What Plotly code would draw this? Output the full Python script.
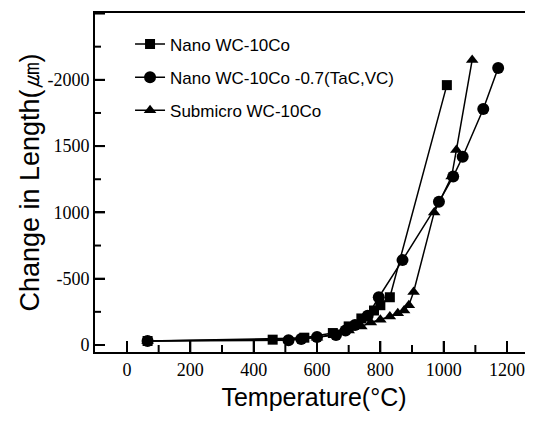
import plotly.graph_objects as go

# Nano WC-10Co (squares)
sq_x = [65, 460, 560, 650, 700, 740, 780, 800, 830, 1010]
sq_y = [30, 40, 55, 90, 140, 200, 260, 300, 360, 1960]

# Nano WC-10Co -0.7(TaC,VC) (circles)
ci_x = [65, 510, 550, 600, 660, 690, 720, 760, 795, 870, 985, 1030, 1060, 1125, 1172]
ci_y = [30, 35, 45, 60, 75, 110, 150, 220, 360, 640, 1080, 1270, 1420, 1780, 2090]

# Submicro WC-10Co (triangles)
tr_x = [65, 600, 700, 740, 770, 800, 830, 855, 875, 890, 905, 970, 1025, 1040, 1090]
tr_y = [30, 55, 110, 140, 170, 190, 215, 240, 260, 300, 400, 1000, 1270, 1470, 2150]

names = ["Nano WC-10Co", "Nano WC-10Co -0.7(TaC,VC)", "Submicro WC-10Co"]

x_ticks = [0, 200, 400, 600, 800, 1000, 1200]
x_minor = [100, 300, 500, 700, 900, 1100]
y_ticks = [0, 500, 1000, 1500, 2000, 2500]
y_minor = [250, 750, 1250, 1750, 2250]
y_ticktext = ["0", "-500", "1000", "1500", "-2000", "-2500"]

x_range = [-101, 1282]
y_range = [-53, 2504]

W, H = 525, 412
ML, MR, MT, MB = 87, 0, 5, 68
PW, PH = W - ML - MR, H - MT - MB

fig = go.Figure()
series = [(sq_x, sq_y, "square", 10), (ci_x, ci_y, "circle", 12), (tr_x, tr_y, "triangle-up", 11)]
for i, (xs, ys, sym, sz) in enumerate(series):
    fig.add_trace(go.Scatter(
        x=xs, y=ys, mode="lines+markers", name=names[i], legendgroup=str(i),
        line=dict(color="black", width=1.5),
        marker=dict(symbol=sym, size=sz, color="black"),
    ))

# inside tick marks as shapes (data position along the axis, domain fraction for length)
shapes = []
for v, ln in [(v, 11) for v in x_ticks] + [(v, 7) for v in x_minor]:
    shapes.append(dict(type="line", xref="x", x0=v, x1=v, yref="y domain", y0=0, y1=ln / PH,
                       line=dict(color="black", width=2), layer="above"))
for v, ln in [(v, 10) for v in y_ticks] + [(v, 6) for v in y_minor]:
    shapes.append(dict(type="line", yref="y", y0=v, y1=v, xref="x domain", x0=0, x1=ln / PW,
                       line=dict(color="black", width=2), layer="above"))

fig.update_layout(
    width=W, height=H,
    margin=dict(l=ML, r=MR, t=MT, b=MB),
    paper_bgcolor="white", plot_bgcolor="white",
    showlegend=True,
    shapes=shapes,
    legend=dict(x=0.08, y=0.96, xanchor="left", yanchor="top",
                font=dict(family="Liberation Sans, Arial", size=17, color="black"),
                tracegroupgap=8, bgcolor="rgba(0,0,0,0)", itemwidth=30),
    font=dict(family="Liberation Serif", color="black"),
)
fig.update_xaxes(
    range=x_range, showline=True, linecolor="black", linewidth=2, mirror=True,
    showgrid=False, zeroline=False,
    tickvals=x_ticks, ticks="inside", ticklen=11, tickwidth=2, tickcolor="black",
    tickfont=dict(family="Liberation Serif", size=18, color="black"),
    title=dict(text="Temperature(°C)", font=dict(family="Liberation Sans, Arial", size=25, color="black"), standoff=10),
)
fig.update_yaxes(
    range=y_range, showline=True, linecolor="black", linewidth=2, mirror=False,
    showgrid=False, zeroline=False,
    tickvals=y_ticks, ticktext=y_ticktext, ticks="inside", ticklen=10, tickwidth=2, tickcolor="black",
    tickfont=dict(family="Liberation Serif", size=18, color="black"),
    title=dict(text="Change in Length(㎛)", font=dict(family="Liberation Sans, Arial", size=27, color="black"), standoff=0),
)
fig.write_html("out.html")
